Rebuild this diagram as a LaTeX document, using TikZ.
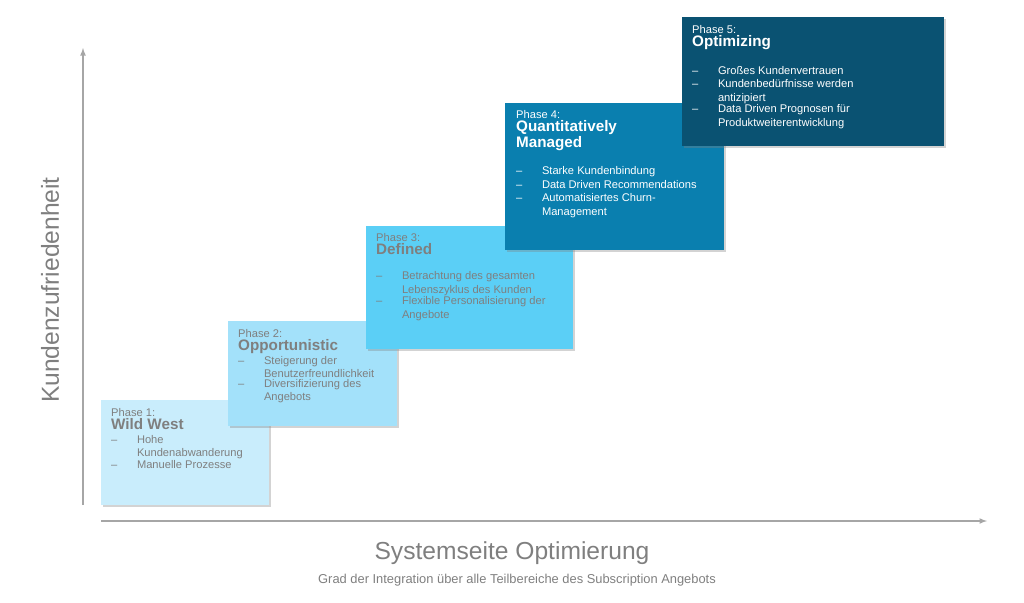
\documentclass[tikz,border=0pt]{standalone}
\usepackage{fontspec}
\setmainfont{Liberation Sans}
\usetikzlibrary{shadows}
\definecolor{axisgray}{HTML}{A6A6A6}
\definecolor{txtgray}{HTML}{7F7F7F}
\definecolor{pOne}{HTML}{C9EDFC}
\definecolor{pTwo}{HTML}{A3E1FA}
\definecolor{pThree}{HTML}{5BCFF6}
\definecolor{pFour}{HTML}{0A7FAF}
\definecolor{pFive}{HTML}{0A5272}
\tikzset{
  phase/.style={draw=none, drop shadow={shadow xshift=2pt, shadow yshift=-2pt, opacity=0.35}},
  ptext/.style={anchor=north west, align=left, font=\fontsize{9.5}{11.5}\selectfont, inner sep=0pt},
  axis/.style={draw=axisgray, line width=1.2pt, -latex}
}
\newcommand{\ttl}{\fontsize{13}{15}\selectfont\bfseries}
\newcommand{\itm}[1]{\makebox[22pt][l]{--}\parbox[t]{150pt}{\raggedright #1}}
\begin{document}
\begin{tikzpicture}[x=0.03cm, y=-0.03cm]
\useasboundingbox (0,0) rectangle (1024,602);
% axes
\coordinate (yb) at (83,505);
\coordinate (yt) at (83,48);
\coordinate (xl) at (101,521);
\coordinate (xr) at (987,521);
\draw[axis] (yb) -- (yt);
\draw[axis] (xl) -- (xr);
\node[rotate=90, text=txtgray, font=\fontsize{21}{24}\selectfont] (ylab) at (50,290) {Kundenzufriedenheit};
\node[text=txtgray, font=\fontsize{21}{24}\selectfont] (xlab) at (512,553) {Systemseite Optimierung};
\node[text=txtgray, font=\fontsize{11}{13}\selectfont] (xsub) at (517,580) {Grad der Integration über alle Teilbereiche des Subscription Angebots};
% phases
\fill[phase, pOne] (101,400) rectangle (269,505);
\fill[phase, pTwo] (228,321) rectangle (397,426);
\fill[phase, pThree] (366,226) rectangle (573,349);
\fill[phase, pFour] (505,103) rectangle (724,250);
\fill[phase, pFive] (682,17) rectangle (944,146);
\node[ptext, text=txtgray] (p1) at (111,408) {Phase 1:\\ {\ttl Wild West}\\
  \itm{Hohe\\Kundenabwanderung}\\ \itm{Manuelle Prozesse}};
\node[ptext, text=txtgray] (p2) at (238,329) {Phase 2:\\ {\ttl Opportunistic}\\
  \itm{Steigerung der\\Benutzerfreundlichkeit}\\ \itm{Diversifizierung des\\Angebots}};
\node[ptext, text=txtgray] (p3) at (376,233) {Phase 3:\\ {\ttl Defined}\\[10pt]
  \itm{Betrachtung des gesamten\\Lebenszyklus des Kunden}\\ \itm{Flexible Personalisierung der\\Angebote}};
\node[ptext, text=white] (p4) at (516,110) {Phase 4:\\ {\ttl Quantitatively}\\ {\ttl Managed}\\[12pt]
  \itm{Starke Kundenbindung}\\ \itm{Data Driven Recommendations}\\ \itm{Automatisiertes Churn-\\Management}};
\node[ptext, text=white] (p5) at (692,25) {Phase 5:\\ {\ttl Optimizing}\\[12pt]
  \itm{Großes Kundenvertrauen}\\ \itm{Kundenbedürfnisse werden antizipiert}\\ \itm{Data Driven Prognosen für\\Produktweiterentwicklung}};
\end{tikzpicture}
\end{document}
